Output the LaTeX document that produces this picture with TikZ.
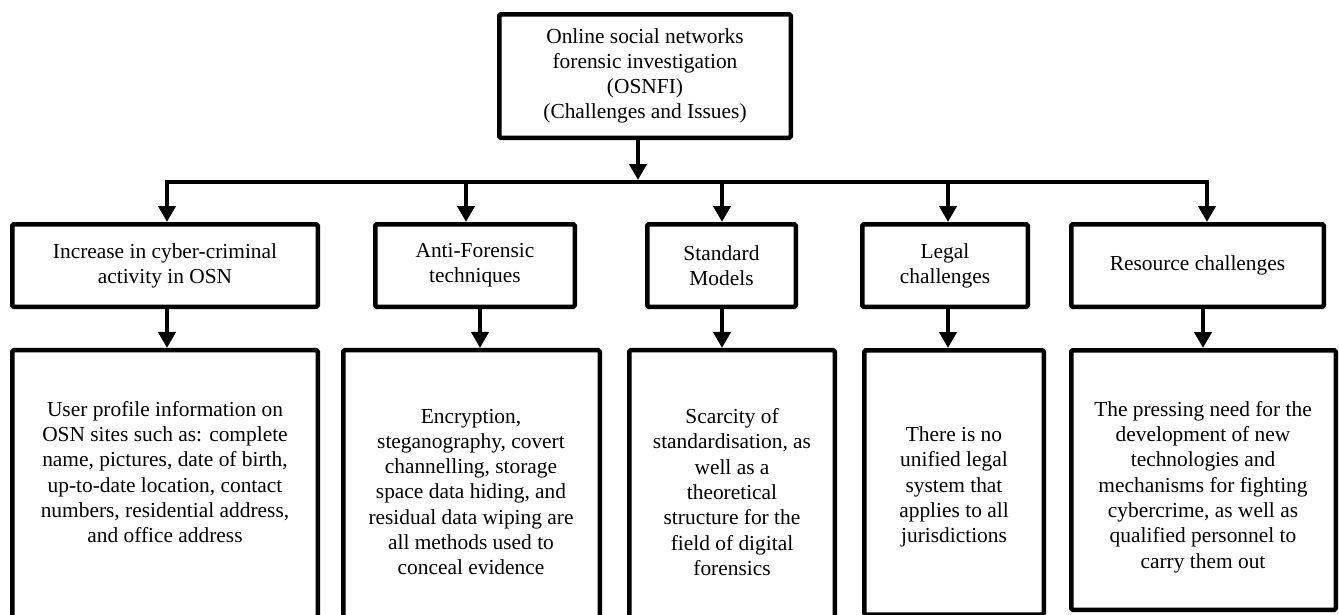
\documentclass[tikz,border=0pt]{standalone}
\usepackage{fontspec}
\setmainfont{Liberation Serif}
\usetikzlibrary{arrows.meta}
\begin{document}
\begin{tikzpicture}[x=1pt,y=-1pt,
  box/.style={draw=black, line width=4.5pt, rounded corners=1.5pt, inner sep=0pt, align=center,
    font=\fontsize{21.4}{25}\selectfont, fill=white},
  txt/.style={inner sep=0pt, align=center, font=\fontsize{21.4}{25.3}\selectfont},
  conn/.style={line width=4.5pt, draw=black},
  arr/.style={conn, -{Triangle[width=17pt,length=16pt]}},
]
\useasboundingbox (0,0) rectangle (1339,614);
\clip (0,0) rectangle (1339,614);

% root
\node[box, minimum width=291.5pt, minimum height=123.5pt] (root) at (645,76)
  {Online social networks\\forensic investigation\\(OSNFI)\\(Challenges and Issues)};

% level 1
\node[box, minimum width=305.5pt, minimum height=82.5pt] (b1) at (165,265.5) {Increase in cyber-criminal\\activity in OSN};
\node[box, minimum width=199.5pt, minimum height=82.5pt] (b2) at (475,265.5) {Anti-Forensic\\techniques};
\node[box, minimum width=148.5pt, minimum height=82.5pt] (b3) at (721.5,265.5) {Standard\\Models};
\node[box, minimum width=165.5pt, minimum height=82.5pt] (b4) at (945,265.5) {Legal\\challenges};
\node[box, minimum width=252.5pt, minimum height=82.5pt] (b5) at (1197.5,265.5) {Resource challenges};

% level 2
\node[box, minimum width=305.5pt, minimum height=274.75pt] (c1) at (165,487.6) {};
\node[box, minimum width=256.5pt, minimum height=274.75pt] (c2) at (471.5,487.6) {};
\node[box, minimum width=205.5pt, minimum height=274.75pt] (c3) at (732,487.6) {};
\node[box, minimum width=179.5pt, minimum height=264.25pt] (c4) at (954,482.4) {};
\node[box, minimum width=264.5pt, minimum height=259.5pt] (c5) at (1203.5,480) {};

\node[txt] (t1) at (165,472) {User profile information on\\OSN sites such as: complete\\name, pictures, date of birth,\\up-to-date location, contact\\numbers, residential address,\\and office address};
\node[txt] (t2) at (471,492) {Encryption,\\steganography, covert\\channelling, storage\\space data hiding, and\\residual data wiping are\\all methods used to\\conceal evidence};
\node[txt] (t3) at (732,492) {Scarcity of\\standardisation, as\\well as a\\theoretical\\structure for the\\field of digital\\forensics};
\node[txt] (t4) at (954,487) {There is no\\unified legal\\system that\\applies to all\\jurisdictions};
\node[txt] (t5) at (1203,487) {The pressing need for the\\development of new\\technologies and\\mechanisms for fighting\\cybercrime, as well as\\qualified personnel to\\carry them out};

% bar
\coordinate (bar) at (0,182);
\coordinate (barL) at (167,182);
\coordinate (barR) at (1207,182);
\coordinate (hub) at (638,182);
\draw[conn, line cap=rect] (barL) -- (barR);
\draw[arr] (root.south -| hub) -- ([yshift=2pt]hub);

% bar to level 1
\draw[arr] (barL) -- (barL |- b1.north);
\draw[arr] ([xshift=-9pt]b2.north |- bar) -- ([xshift=-9pt]b2.north);
\draw[arr] ([xshift=0.5pt]b3.north |- bar) -- ([xshift=0.5pt]b3.north);
\draw[arr] ([xshift=3pt]b4.north |- bar) -- ([xshift=3pt]b4.north);
\draw[arr] (barR) -- (barR |- b5.north);

% level 1 to level 2
\draw[arr] ([xshift=2pt]b1.south) -- ([xshift=2pt]b1.south |- c1.north);
\draw[arr] ([xshift=5pt]b2.south) -- ([xshift=5pt]b2.south |- c2.north);
\draw[arr] ([xshift=0.5pt]b3.south) -- ([xshift=0.5pt]b3.south |- c3.north);
\draw[arr] ([xshift=3pt]b4.south) -- ([xshift=3pt]b4.south |- c4.north);
\draw[arr] ([xshift=5.5pt]b5.south) -- ([xshift=5.5pt]b5.south |- c5.north);
\end{tikzpicture}
\end{document}
